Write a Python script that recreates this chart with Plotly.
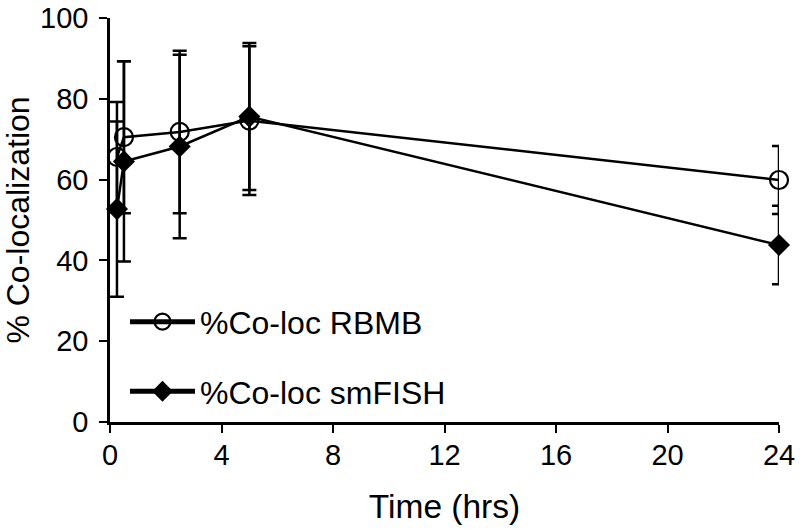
import plotly.graph_objects as go

time_hrs = [0.25, 0.5, 2.5, 5, 24]
rbmb = [65.6, 70.5, 71.8, 74.6, 59.9]
rbmb_err = [13.6, 18.8, 20.1, 18.4, 8.4]
smfish = [52.7, 64.5, 68.2, 75.6, 43.8]
smfish_err = [21.7, 24.8, 22.7, 18.2, 9.7]
x_ticks = [0, 4, 8, 12, 16, 20, 24]
y_ticks = [0, 20, 40, 60, 80, 100]

FONT = "Liberation Sans, Arial, sans-serif"
TICK_SIZE = 29
TEXT_SIZE = 32

fig = go.Figure()
fig.add_trace(go.Scatter(
    x=time_hrs, y=rbmb, mode="lines+markers", name="%Co-loc RBMB",
    showlegend=False,
    line=dict(color="black", width=2.5),
    marker=dict(symbol="circle-open", size=18, color="black", line=dict(width=2.2, color="black")),
    error_y=dict(type="data", array=rbmb_err, visible=True, color="black", thickness=2.5, width=7),
    cliponaxis=False,
))
fig.add_trace(go.Scatter(
    x=time_hrs, y=smfish, mode="lines+markers", name="%Co-loc smFISH",
    showlegend=False,
    line=dict(color="black", width=2.5),
    marker=dict(symbol="diamond", size=17, color="black"),
    error_y=dict(type="data", array=smfish_err, visible=True, color="black", thickness=2.5, width=7),
    cliponaxis=False,
))
# legend entries
fig.add_trace(go.Scatter(
    x=[None], y=[None], mode="lines+markers", name="%Co-loc RBMB", legendgroup="a",
    line=dict(color="black", width=5),
    marker=dict(symbol="circle-open", size=18, color="black", line=dict(width=2.2, color="black")),
))
fig.add_trace(go.Scatter(
    x=[None], y=[None], mode="lines+markers", name="%Co-loc smFISH", legendgroup="b",
    line=dict(color="black", width=5),
    marker=dict(symbol="diamond", size=17, color="black"),
))

axis_common = dict(
    showline=True, linecolor="black", linewidth=2.5, mirror=False,
    ticks="outside", tickcolor="black", tickwidth=2, ticklen=8,
    showgrid=False, zeroline=False, automargin=False,
    ticklabeloverflow="allow",
    tickfont=dict(family=FONT, size=TICK_SIZE, color="black"),
)

fig.update_layout(
    width=800, height=530,
    paper_bgcolor="white", plot_bgcolor="white",
    margin=dict(l=110, r=21, t=17.5, b=108.3),
    font=dict(family=FONT, color="black"),
    xaxis=dict(range=[0, 24], tickvals=x_ticks, ticklabelstandoff=-3,
               title=dict(text="Time (hrs)", font=dict(family=FONT, size=33.5, color="black"), standoff=26),
               **axis_common),
    yaxis=dict(range=[0, 100], tickvals=y_ticks, ticklabelstandoff=5,
               title=dict(text="% Co-localization", font=dict(family=FONT, size=TEXT_SIZE, color="black"), standoff=22),
               **axis_common),
    legend=dict(x=0.0224, y=0.316, xanchor="left", yanchor="top",
                font=dict(family=FONT, size=TEXT_SIZE, color="black"),
                bgcolor="rgba(0,0,0,0)", tracegroupgap=25, itemwidth=65),
)

fig.write_html(
    "out.html",
    config={"displayModeBar": False},
    post_script="document.body.style.margin='0';document.body.style.overflow='hidden';",
)
